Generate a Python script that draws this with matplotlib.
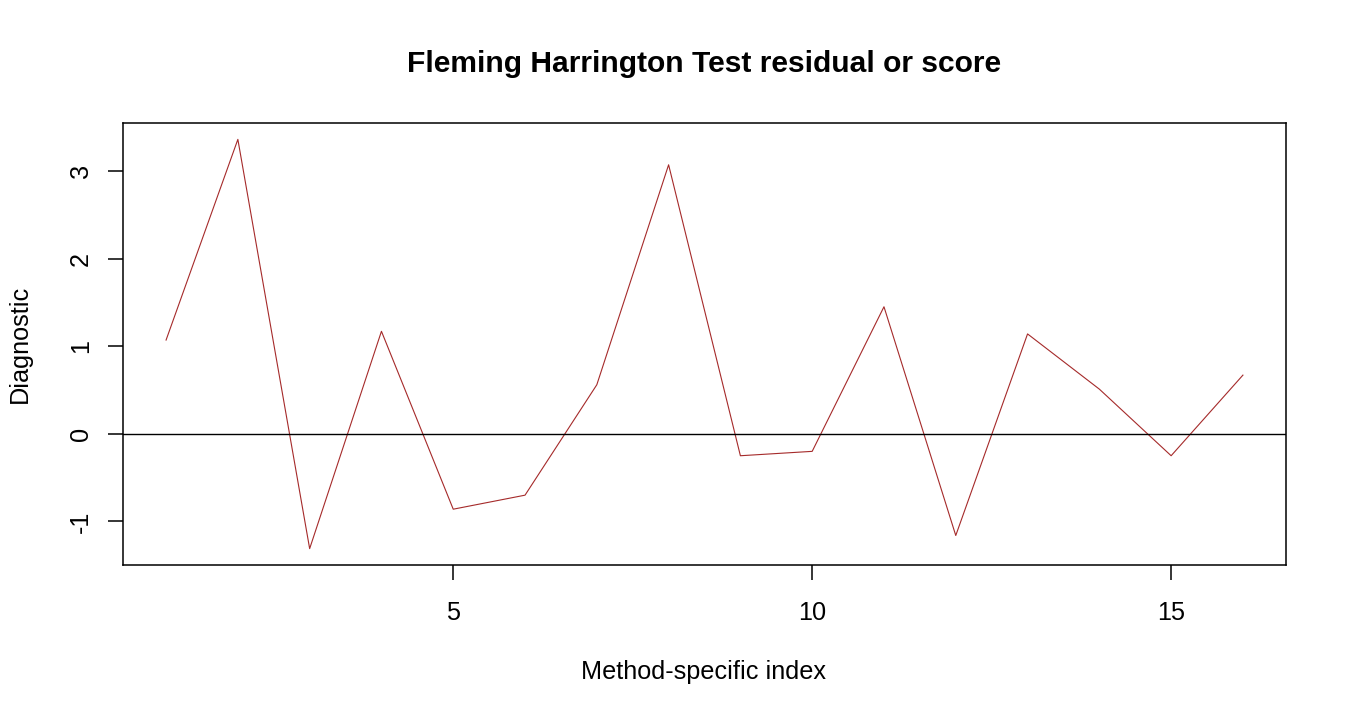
import matplotlib
matplotlib.use("Agg")
import matplotlib.pyplot as plt
import numpy as np

plt.rcParams['font.family'] = ['Liberation Sans', 'DejaVu Sans']

index = list(range(1, 17))
diagnostic = [1.07, 3.36, -1.31, 1.17, -0.86, -0.70, 0.56, 3.07,
              -0.25, -0.20, 1.45, -1.16, 1.14, 0.51, -0.25, 0.67]
xticks = [5, 10, 15]
yticks = [-1, 0, 1, 2, 3]

W, H = 1350, 720
fig = plt.figure(figsize=(13.5, 7.2), dpi=100)
ax = fig.add_axes([123 / W, 1 - 565 / H, (1286 - 123) / W, (565 - 123) / H])

ax.plot(index, diagnostic, color='#A52A2A', lw=0.8)
ax.axhline(0, color='black', lw=1.0)

xr = max(index) - min(index)
ax.set_xlim(min(index) - 0.04 * xr, max(index) + 0.04 * xr)
yr = max(diagnostic) - min(diagnostic)
ax.set_ylim(min(diagnostic) - 0.04 * yr, max(diagnostic) + 0.04 * yr)

ax.set_xticks(xticks)
ax.set_yticks(yticks)
ax.set_yticklabels([str(v) for v in yticks], rotation=90, va='center')
ax.tick_params(axis='both', length=10.8, width=1.1, labelsize=18.2)
ax.tick_params(axis='x', pad=15)
ax.tick_params(axis='y', pad=11)
for s in ax.spines.values():
    s.set_linewidth(1.1)

fig.text(704.5 / W, 1 - 64 / H, 'Fleming Harrington Test residual or score',
         ha='center', va='center', fontsize=21.6, fontweight='bold')
fig.text(704 / W, 1 - 672 / H, 'Method-specific index',
         ha='center', va='center', fontsize=18.2)
fig.text(20 / W, 1 - 344 / H, 'Diagnostic', rotation=90,
         ha='center', va='center', fontsize=18.2)

fig.savefig('out.png', dpi=100)
